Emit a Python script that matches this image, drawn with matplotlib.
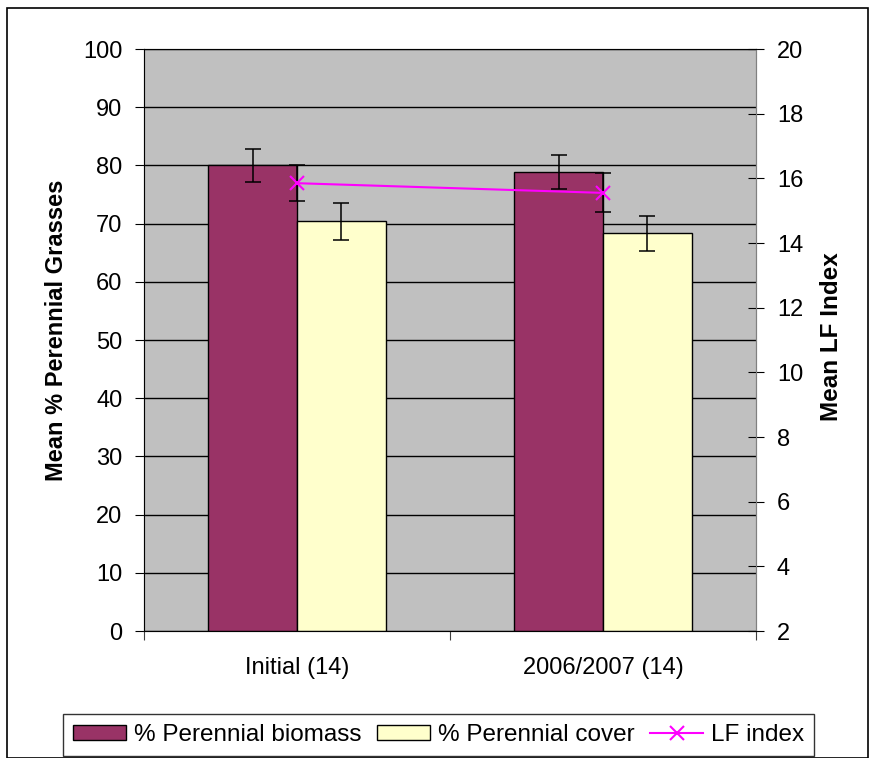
import numpy as np
import matplotlib.pyplot as plt
from matplotlib.patches import Rectangle
from matplotlib import rcParams
rcParams['font.family'] = ['Liberation Sans', 'DejaVu Sans']
rcParams['font.size'] = 17

categories = ['Initial (14)', '2006/2007 (14)']
biomass = [80.0, 78.9]
biomass_err = [2.9, 2.95]
cover = [70.4, 68.3]
cover_err = [3.15, 2.95]
lf_index = [15.85, 15.55]
lf_err = [0.56, 0.6]

W, H = 877, 758
fig = plt.figure(figsize=(W / 100, H / 100), dpi=100)
ax = fig.add_axes([144 / W, 1 - 631 / H, (756 - 144) / W, (631 - 49) / H])
ax.set_facecolor('#C0C0C0')

x = np.arange(len(categories))
bw = 0.29
ax.bar(x - bw / 2, biomass, bw, color='#993366', edgecolor='black',
       linewidth=1, zorder=3, label='% Perennial biomass')
ax.bar(x + bw / 2, cover, bw, color='#FFFFCC', edgecolor='black',
       linewidth=1, zorder=3, label='% Perennial cover')
ax.errorbar(x - bw / 2, biomass, yerr=biomass_err, fmt='none', ecolor='black',
            elinewidth=1.1, capsize=5.5, capthick=1.1, zorder=4)
ax.errorbar(x + bw / 2, cover, yerr=cover_err, fmt='none', ecolor='black',
            elinewidth=1.1, capsize=5.5, capthick=1.1, zorder=4)

ax.set_xlim(-0.5, 1.5)
ax.set_ylim(0, 100)
ax.set_yticks(range(0, 101, 10))
ax.yaxis.grid(True, color='black', linewidth=1)
ax.set_axisbelow(True)
ax.set_xticks([-0.5, 0.5, 1.5])
ax.set_xticklabels([])
ax.set_xticks(x, minor=True)
ax.set_xticklabels(categories, minor=True)
ax.tick_params(axis='x', which='minor', length=0, pad=19)
ax.tick_params(axis='x', which='major', length=6.5, color='#404040')
ax.tick_params(axis='y', length=6.5, color='black', pad=9)
for s in ['top', 'right', 'left', 'bottom']:
    ax.spines[s].set_color('#808080')

ax2 = ax.twinx()
ax2.errorbar(x, lf_index, yerr=lf_err, fmt='none', ecolor='black',
             elinewidth=1.1, capsize=5.5, capthick=1.1, zorder=4)
ax2.plot(x, lf_index, color='#FF00FF', marker='x', markersize=10,
         markeredgewidth=1.5, linewidth=1.5, zorder=5, label='LF index')
ax2.set_ylim(2, 20)
ax2.set_yticks(range(2, 21, 2))
ax2.tick_params(axis='y', direction='inout', length=12, color='black', pad=9)
ax2.spines['right'].set_color('#808080')

fig.text(57 / W, 1 - 330 / H, 'Mean % Perennial Grasses', rotation=90,
         ha='center', va='center', fontweight='bold', fontsize=17)
fig.text(831 / W, 1 - 337 / H, 'Mean LF Index', rotation=90,
         ha='center', va='center', fontweight='bold', fontsize=17.5)

fig.patches.append(Rectangle((7 / W, 0), 861 / W, 1 - 8 / H, transform=fig.transFigure,
                             fill=False, edgecolor='black', linewidth=1.2))

h1, l1 = ax.get_legend_handles_labels()
h2, l2 = ax2.get_legend_handles_labels()
leg = fig.legend(h1 + h2, l1 + l2, ncol=3, loc='center',
                 bbox_to_anchor=(438.5 / W, 1 - 735 / H), frameon=True,
                 fancybox=False, edgecolor='black', handlelength=2.2,
                 handleheight=0.62, columnspacing=0.62, handletextpad=0.33,
                 borderpad=0.4, fontsize=17.5)
leg.get_frame().set_linewidth(1)

fig.savefig('out.png', dpi=100)
